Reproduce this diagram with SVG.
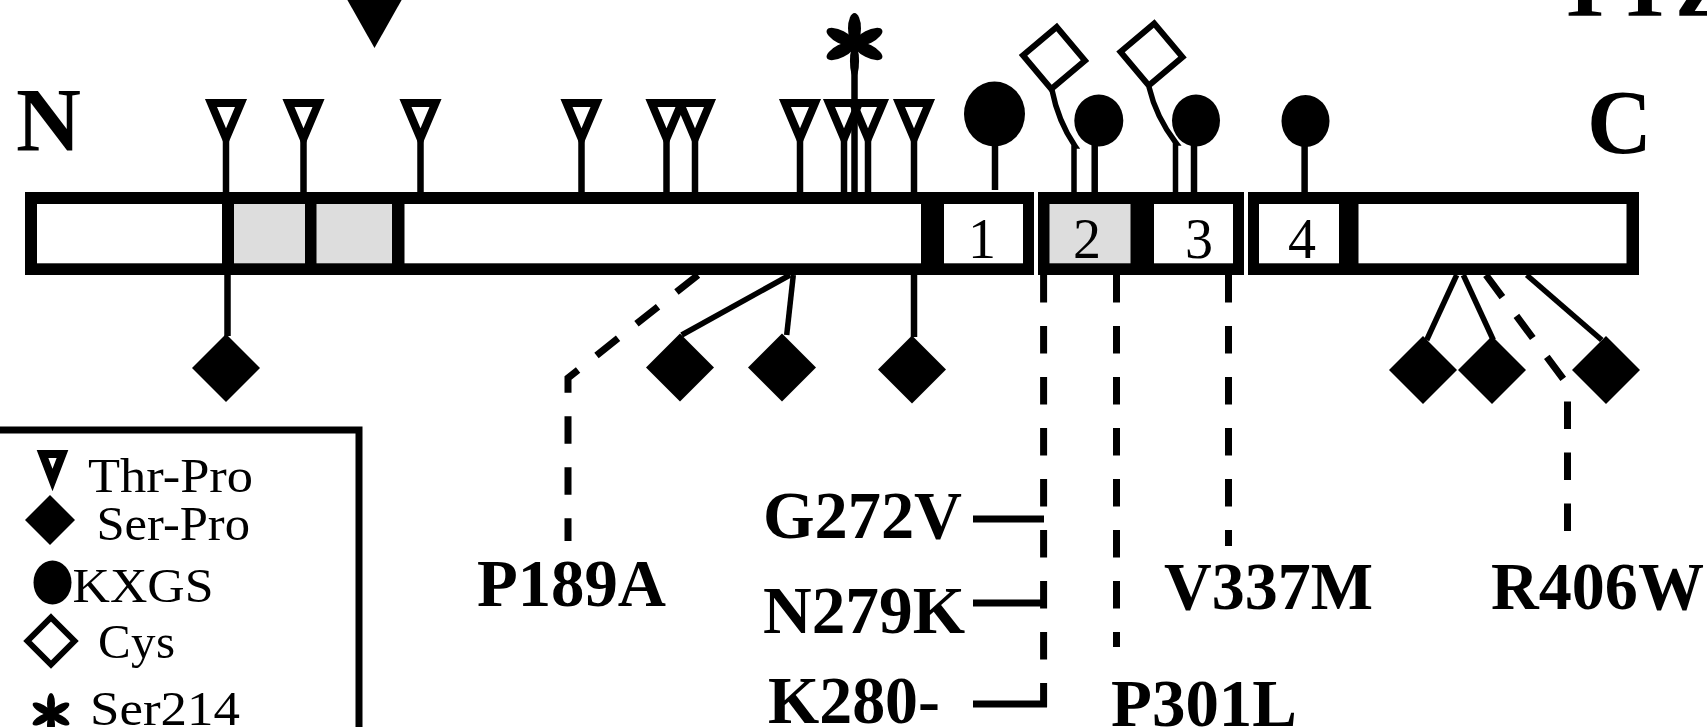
<svg xmlns="http://www.w3.org/2000/svg" xmlns:xlink="http://www.w3.org/1999/xlink" width="1707" height="727" viewBox="0 0 1707 727">
<style>
.lbl{font-family:"Liberation Serif","Times New Roman",serif;font-weight:bold;font-size:68px;fill:#000}
.big{font-family:"Liberation Serif","Times New Roman",serif;font-weight:bold;font-size:90px;fill:#000}
.leg{font-family:"Liberation Serif","Times New Roman",serif;font-size:49px;fill:#000}
.dom{font-family:"Liberation Serif","Times New Roman",serif;font-size:56px;fill:#000;text-anchor:middle}
.stem{stroke:#000;stroke-width:6.5;fill:none}
.link{stroke:#000;stroke-width:5.5;fill:none}
.dash{stroke:#000;stroke-width:7;fill:none;stroke-dasharray:27.5 23.5}
.tick{stroke:#000;stroke-width:7;fill:none}
</style>
<defs>
<polygon id="tri" points="-15,103 15,103 0,138.5" fill="none" stroke="#000" stroke-width="8"/>
<polygon id="dia" points="0,-34 34,0 0,34 -34,0" fill="#000"/>
<ellipse id="petal" cx="15.5" cy="0" rx="15.5" ry="6.5" fill="#000"/>
<ellipse id="petalS" cx="10.5" cy="0" rx="10.5" ry="4" fill="#000"/>
</defs>
<rect width="1707" height="727" fill="#fff"/>

<!-- partial heading cut at top edge -->
<text class="big" x="1555" y="16" font-size="95">TTZ</text>
<polygon id="arrow-top" points="344,-6 405,-6 374.5,48" fill="#000"/>

<text id="label-N" class="big" x="16" y="151">N</text>
<text id="label-C" class="big" x="1587" y="153">C</text>

<!-- connectors -->
<g id="connectors">
  <line class="stem" x1="226" y1="140" x2="226" y2="192"/>
  <line class="stem" x1="303.5" y1="140" x2="303.5" y2="192"/>
  <line class="stem" x1="420.5" y1="140" x2="420.5" y2="192"/>
  <line class="stem" x1="581.5" y1="140" x2="581.5" y2="192"/>
  <line class="stem" x1="666.5" y1="140" x2="666.5" y2="192"/>
  <line class="stem" x1="695" y1="140" x2="695" y2="192"/>
  <line class="stem" x1="800" y1="140" x2="800" y2="192"/>
  <line class="stem" x1="844" y1="140" x2="844" y2="192"/>
  <line class="stem" x1="868" y1="140" x2="868" y2="192"/>
  <line class="stem" x1="914" y1="140" x2="914" y2="192"/>
  <line class="stem" x1="854.5" y1="60" x2="854.5" y2="192"/>
  <line class="stem" x1="995" y1="140" x2="995" y2="190"/>
  <line class="stem" x1="1094.7" y1="140" x2="1094.7" y2="192"/>
  <line class="stem" x1="1194" y1="140" x2="1194" y2="192"/>
  <line class="stem" x1="1304.6" y1="140" x2="1304.6" y2="192"/>
  <path class="link" d="M1052,90 Q1058,121 1075,146 L1074,146 L1074,192"/>
  <path class="link" d="M1149,87 Q1156,117 1176,143 L1175.5,143 L1175.5,192"/>
  <line class="stem" x1="227.5" y1="275" x2="227.5" y2="336"/>
  <line class="link" x1="790" y1="275" x2="681.7" y2="335"/>
  <line class="link" x1="793.3" y1="275" x2="786.7" y2="335"/>
  <line class="stem" x1="914" y1="275" x2="914" y2="337"/>
  <line class="link" x1="1456.7" y1="275" x2="1426.7" y2="340"/>
  <line class="link" x1="1463.3" y1="275" x2="1493.3" y2="340"/>
  <line class="link" x1="1526.7" y1="275" x2="1601.7" y2="340"/>
  <path class="dash" d="M698,275 L568,378 L568,541"/>
  <path class="dash" d="M1043.6,275 L1043.6,707"/>
  <path class="dash" d="M1116.5,275 L1116.5,647"/>
  <path class="dash" d="M1228.5,275 L1228.5,546"/>
  <path class="dash" d="M1486,275 L1564,380 L1567.5,388 L1567.5,546"/>
  <line class="tick" x1="973" y1="519" x2="1044" y2="519"/>
  <line class="tick" x1="973" y1="603" x2="1047" y2="603"/>
  <line class="tick" x1="973" y1="704" x2="1047" y2="704"/>
</g>

<!-- protein bar -->
<g id="protein-bar">
  <rect x="25" y="192" width="1009" height="83" fill="#000"/>
  <rect x="37" y="204" width="185" height="59.3" fill="#fff"/>
  <rect x="234" y="204" width="71" height="59.3" fill="#ddd"/>
  <rect x="316.5" y="204" width="75.5" height="59.3" fill="#ddd"/>
  <rect x="404.5" y="204" width="516.5" height="59.3" fill="#fff"/>
  <rect x="944" y="204" width="79" height="59.3" fill="#fff"/>
  <rect x="1038" y="192" width="206" height="83" fill="#000"/>
  <rect x="1049.5" y="204" width="81" height="59.3" fill="#ddd"/>
  <rect x="1154" y="204" width="79" height="59.3" fill="#fff"/>
  <rect x="1248" y="192" width="391" height="83" fill="#000"/>
  <rect x="1259" y="204" width="80" height="59.3" fill="#fff"/>
  <rect x="1358.5" y="204" width="268" height="59.3" fill="#fff"/>
  <text class="dom" x="982" y="258">1</text>
  <text class="dom" x="1087" y="258">2</text>
  <text class="dom" x="1199" y="258">3</text>
  <text class="dom" x="1302" y="258">4</text>
</g>

<!-- Thr-Pro sites -->
<g id="thr-sites">
  <use xlink:href="#tri" x="226"/>
  <use xlink:href="#tri" x="303.5"/>
  <use xlink:href="#tri" x="420.5"/>
  <use xlink:href="#tri" x="581.5"/>
  <use xlink:href="#tri" x="666.5"/>
  <use xlink:href="#tri" x="695"/>
  <use xlink:href="#tri" x="800"/>
  <use xlink:href="#tri" x="844"/>
  <use xlink:href="#tri" x="868"/>
  <use xlink:href="#tri" x="914"/>
</g>

<!-- Ser214 -->
<g id="ser214" transform="translate(854.5,44)">
  <use xlink:href="#petal" transform="rotate(-90)"/>
  <use xlink:href="#petal" transform="rotate(90) scale(1.1,0.7)"/>
  <use xlink:href="#petal" transform="rotate(-153)"/>
  <use xlink:href="#petal" transform="rotate(153)"/>
  <use xlink:href="#petal" transform="rotate(-27)"/>
  <use xlink:href="#petal" transform="rotate(27)"/>
</g>

<!-- KXGS -->
<g id="kxgs-sites" fill="#000">
  <ellipse cx="994.5" cy="114" rx="30.5" ry="32.5"/>
  <ellipse cx="1098.8" cy="120.5" rx="24.5" ry="26"/>
  <ellipse cx="1196" cy="120.5" rx="24" ry="26"/>
  <ellipse cx="1305.5" cy="121" rx="24" ry="26"/>
</g>

<!-- Cys -->
<g id="cys-sites" fill="#fff" stroke="#000" stroke-width="6">
  <rect x="-22" y="-22" width="44" height="44" transform="translate(1054,58) rotate(50)"/>
  <rect x="-22" y="-22" width="44" height="44" transform="translate(1151.5,54.5) rotate(50)"/>
</g>

<!-- Ser-Pro sites -->
<g id="ser-sites">
  <use xlink:href="#dia" x="226" y="368"/>
  <use xlink:href="#dia" x="680" y="367.5"/>
  <use xlink:href="#dia" x="782" y="367.5"/>
  <use xlink:href="#dia" x="912" y="369.5"/>
  <use xlink:href="#dia" x="1423" y="370"/>
  <use xlink:href="#dia" x="1492" y="370"/>
  <use xlink:href="#dia" x="1606" y="370"/>
</g>

<!-- mutation labels -->
<g id="mutations">
  <text class="lbl" x="477" y="606" textLength="189" lengthAdjust="spacingAndGlyphs">P189A</text>
  <text class="lbl" x="763" y="538" textLength="199" lengthAdjust="spacingAndGlyphs">G272V</text>
  <text class="lbl" x="763" y="633" textLength="202" lengthAdjust="spacingAndGlyphs">N279K</text>
  <text class="lbl" x="768" y="723" textLength="172" lengthAdjust="spacingAndGlyphs">K280-</text>
  <text class="lbl" x="1111" y="726" textLength="186" lengthAdjust="spacingAndGlyphs">P301L</text>
  <text class="lbl" x="1164" y="609" textLength="209" lengthAdjust="spacingAndGlyphs">V337M</text>
  <text class="lbl" x="1491" y="609" textLength="213" lengthAdjust="spacingAndGlyphs">R406W</text>
</g>

<!-- legend -->
<g id="legend">
  <path d="M-10,430 H359 V740" fill="none" stroke="#000" stroke-width="7"/>
  <polygon points="42.5,454 62.5,454 52.5,480" fill="none" stroke="#000" stroke-width="8"/>
  <text class="leg" x="88" y="491.5" textLength="165" lengthAdjust="spacingAndGlyphs">Thr-Pro</text>
  <polygon points="50,495 75,520 50,545 25,520" fill="#000"/>
  <text class="leg" x="96.5" y="540" textLength="153.5" lengthAdjust="spacingAndGlyphs">Ser-Pro</text>
  <ellipse cx="52.5" cy="582.5" rx="19" ry="22" fill="#000"/>
  <text class="leg" x="72.5" y="601.5" textLength="141" lengthAdjust="spacingAndGlyphs">KXGS</text>
  <polygon points="51,617.5 74.5,641 51,664.5 27.5,641" fill="#fff" stroke="#000" stroke-width="6"/>
  <text class="leg" x="98" y="658" textLength="77" lengthAdjust="spacing">Cys</text>
  <g transform="translate(51,714)">
    <use xlink:href="#petalS" transform="rotate(-90)"/>
    <use xlink:href="#petalS" transform="rotate(90)"/>
    <use xlink:href="#petalS" transform="rotate(-150)"/>
    <use xlink:href="#petalS" transform="rotate(150)"/>
    <use xlink:href="#petalS" transform="rotate(-30)"/>
    <use xlink:href="#petalS" transform="rotate(30)"/>
  </g>
  <text class="leg" x="90" y="725" textLength="150" lengthAdjust="spacingAndGlyphs">Ser214</text>
</g>
</svg>
